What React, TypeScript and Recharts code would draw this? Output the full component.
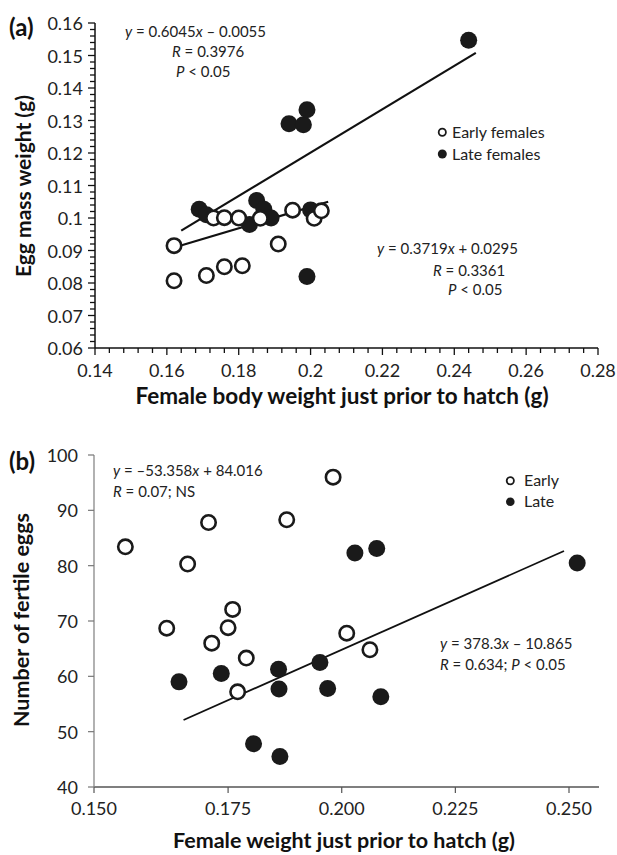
import React from 'react';
import { ScatterChart, Scatter, XAxis, YAxis, ReferenceLine } from 'recharts';

// ---------- Panel (a) data ----------
const earlyAX = [0.162, 0.162, 0.171, 0.176, 0.181, 0.191, 0.173, 0.176, 0.180, 0.186, 0.195, 0.201, 0.203];
const earlyAY = [0.0915, 0.0807, 0.0823, 0.0850, 0.0853, 0.0920, 0.1000, 0.1001, 0.1000, 0.0999, 0.1024, 0.0999, 0.1022];
const lateAX = [0.169, 0.171, 0.185, 0.187, 0.189, 0.183, 0.200, 0.199, 0.194, 0.198, 0.199, 0.244];
const lateAY = [0.1027, 0.1010, 0.1054, 0.1027, 0.1000, 0.0980, 0.1025, 0.0820, 0.1290, 0.1287, 0.1333, 0.1547];
const trendLateA = [{ x: 0.164, y: 0.0961 }, { x: 0.246, y: 0.1508 }];
const trendEarlyA = [{ x: 0.1604, y: 0.0904 }, { x: 0.2049, y: 0.1050 }];
const xMajorA = [0.14, 0.16, 0.18, 0.2, 0.22, 0.24, 0.26, 0.28];
const xLabelsA = ['0.14', '0.16', '0.18', '0.2', '0.22', '0.24', '0.26', '0.28'];
const yMajorA = [0.06, 0.07, 0.08, 0.09, 0.1, 0.11, 0.12, 0.13, 0.14, 0.15, 0.16];
const yLabelsA = ['0.06', '0.07', '0.08', '0.09', '0.1', '0.11', '0.12', '0.13', '0.14', '0.15', '0.16'];

// ---------- Panel (b) data ----------
const earlyBX = [0.1524, 0.1615, 0.1661, 0.1707, 0.1714, 0.1750, 0.1760, 0.1771, 0.1790, 0.1879, 0.1981, 0.2011, 0.2062];
const earlyBY = [83.4, 68.7, 80.3, 87.8, 66.0, 68.8, 72.1, 57.2, 63.3, 88.3, 96.0, 67.8, 64.8];
const lateBX = [0.1642, 0.1735, 0.1806, 0.1861, 0.1862, 0.1864, 0.1952, 0.1969, 0.2029, 0.2077, 0.2086, 0.2518];
const lateBY = [59.0, 60.5, 47.8, 61.3, 57.7, 45.5, 62.5, 57.8, 82.3, 83.1, 56.3, 80.5];
const trendLateB = [{ x: 0.1652, y: 52.1 }, { x: 0.2489, y: 82.65 }];
const xTicksB = [0.1455, 0.175, 0.2, 0.225, 0.25];
const xLabelsB = ['0.150', '0.175', '0.200', '0.225', '0.250'];
const yTicksB = [40, 50, 60, 70, 80, 90, 100];
const yLabelsB = ['40', '50', '60', '70', '80', '90', '100'];

const zip = (xs: number[], ys: number[]) => xs.map((x, i) => ({ x, y: ys[i] }));

const FONT = 'Lato, "Liberation Sans", sans-serif';
const TXT = '#222';

// minor tick positions (every 0.004 on x, every 0.002 on y)
const xTicksA = Array.from({ length: 36 }, (_, i) => Number((0.14 + i * 0.004).toFixed(3)));
const yTicksA = Array.from({ length: 51 }, (_, i) => Number((0.06 + i * 0.002).toFixed(3)));

const findMajor = (v: number, majors: number[]) => majors.findIndex((m) => Math.abs(m - v) < 1e-6);

const XTickA = (props: any) => {
  const { x, y, payload } = props;
  const idx = findMajor(payload.value, xMajorA);
  const major = idx >= 0;
  return (
    <g>
      <line x1={x} x2={x} y1={y} y2={y + (major ? 7 : 5)} stroke="#111" strokeWidth={1.3} />
      {major && (
        <text x={x} y={y + 22} textAnchor="middle" dominantBaseline="central" fontSize={18} fill={TXT} fontFamily={FONT}>
          {xLabelsA[idx]}
        </text>
      )}
    </g>
  );
};

const YTickA = (props: any) => {
  const { x, y, payload } = props;
  const idx = findMajor(payload.value, yMajorA);
  const major = idx >= 0;
  return (
    <g>
      <line x1={x} x2={x - (major ? 7 : 5)} y1={y} y2={y} stroke="#111" strokeWidth={1.3} />
      {major && (
        <text x={x - 12} y={y} textAnchor="end" dominantBaseline="central" fontSize={18} fill={TXT} fontFamily={FONT}>
          {yLabelsA[idx]}
        </text>
      )}
    </g>
  );
};

const XTickB = (props: any) => {
  const { x, y, payload, index } = props;
  return (
    <g>
      <line x1={x} x2={x} y1={y} y2={y + 6} stroke="#555" strokeWidth={1.2} />
      <text x={x} y={y + 21} textAnchor="middle" dominantBaseline="central" fontSize={18} fill={TXT} fontFamily={FONT}>
        {xLabelsB[index] ?? String(payload.value)}
      </text>
    </g>
  );
};

const YTickB = (props: any) => {
  const { x, y, payload, index } = props;
  return (
    <g>
      <line x1={x} x2={x - 6} y1={y} y2={y} stroke="#777" strokeWidth={1.2} />
      <text x={x - 16} y={y} textAnchor="end" dominantBaseline="central" fontSize={18} fill={TXT} fontFamily={FONT}>
        {yLabelsB[index] ?? String(payload.value)}
      </text>
    </g>
  );
};

const OpenDot = (r: number) => (p: any) => (
  <circle cx={p.cx} cy={p.cy} r={r} fill="#fff" stroke="#1a1a1a" strokeWidth={2.6} />
);
const FilledDot = (r: number) => (p: any) => <circle cx={p.cx} cy={p.cy} r={r} fill="#1a1a1a" />;

const abs = (left: number, top: number, extra: React.CSSProperties = {}): React.CSSProperties => ({
  position: 'absolute',
  left,
  top,
  transform: 'translateY(-50%)',
  whiteSpace: 'nowrap',
  fontFamily: FONT,
  color: TXT,
  lineHeight: 1,
  ...extra,
});

const I = ({ children }: { children: React.ReactNode }) => <i>{children}</i>;

export default function App() {
  return (
    <div style={{ position: 'absolute', left: 0, top: 0, width: 617, height: 855, background: '#fff', fontFamily: FONT }}>
      {/* Panel (a) */}
      <div style={{ position: 'absolute', left: 0, top: 0 }}>
        <ScatterChart width={617} height={420} margin={{ top: 23, right: 19, bottom: 0, left: 0 }}>
          <XAxis
            type="number"
            dataKey="x"
            domain={[0.14, 0.28]}
            ticks={xTicksA}
            interval={0}
            height={72}
            tickSize={0}
            tickMargin={0}
            tickLine={false}
            axisLine={{ stroke: '#111', strokeWidth: 1.5 }}
            tick={(p: any) => <XTickA {...p} />}
            allowDataOverflow
          />
          <YAxis
            type="number"
            dataKey="y"
            domain={[0.06, 0.16]}
            ticks={yTicksA}
            interval={0}
            width={95}
            tickSize={0}
            tickMargin={0}
            tickLine={false}
            axisLine={{ stroke: '#111', strokeWidth: 1.5 }}
            tick={(p: any) => <YTickA {...p} />}
            allowDataOverflow
          />
          <Scatter name="Late females" data={zip(lateAX, lateAY)} shape={FilledDot(8.5)} isAnimationActive={false} />
          <Scatter name="Early females" data={zip(earlyAX, earlyAY)} shape={OpenDot(7.2)} isAnimationActive={false} />
          <ReferenceLine segment={trendLateA} stroke="#111" strokeWidth={2.2} ifOverflow="visible" />
          <ReferenceLine segment={trendEarlyA} stroke="#111" strokeWidth={2.2} ifOverflow="visible" />
        </ScatterChart>
      </div>

      {/* Panel (b) */}
      <div style={{ position: 'absolute', left: 0, top: 420 }}>
        <ScatterChart width={617} height={435} margin={{ top: 35, right: 18, bottom: 0, left: 0 }}>
          <XAxis
            type="number"
            dataKey="x"
            domain={[0.1455, 0.2566]}
            ticks={xTicksB}
            interval={0}
            height={68}
            tickSize={0}
            tickMargin={0}
            tickLine={false}
            axisLine={{ stroke: '#555', strokeWidth: 1.3 }}
            tick={(p: any) => <XTickB {...p} />}
            allowDataOverflow
          />
          <YAxis
            type="number"
            dataKey="y"
            domain={[40, 100]}
            ticks={yTicksB}
            interval={0}
            width={94}
            tickSize={0}
            tickMargin={0}
            tickLine={false}
            axisLine={{ stroke: '#888', strokeWidth: 1.3 }}
            tick={(p: any) => <YTickB {...p} />}
            allowDataOverflow
          />
          <Scatter name="Late" data={zip(lateBX, lateBY)} shape={FilledDot(8.5)} isAnimationActive={false} />
          <Scatter name="Early" data={zip(earlyBX, earlyBY)} shape={OpenDot(7.2)} isAnimationActive={false} />
          <ReferenceLine segment={trendLateB} stroke="#111" strokeWidth={1.8} ifOverflow="visible" />
        </ScatterChart>
      </div>

      {/* Panel labels */}
      <div style={abs(9, 27, { fontWeight: 700, fontSize: 24, color: '#111' })}>(a)</div>
      <div style={abs(9, 461, { fontWeight: 700, fontSize: 24, color: '#111' })}>(b)</div>

      {/* Axis titles */}
      <div style={{ ...abs(342, 396, { fontWeight: 700, fontSize: 22.5, color: '#111' }), transform: 'translate(-50%,-50%)' }}>
        Female body weight just prior to hatch (g)
      </div>
      <div style={{ ...abs(22, 186, { fontWeight: 700, fontSize: 21, color: '#111' }), transform: 'translate(-50%,-50%) rotate(-90deg)' }}>
        Egg mass weight (g)
      </div>
      <div style={{ ...abs(344, 841, { fontWeight: 700, fontSize: 21.5, color: '#111' }), transform: 'translate(-50%,-50%)' }}>
        Female weight just prior to hatch (g)
      </div>
      <div style={{ ...abs(22, 620, { fontWeight: 700, fontSize: 21.5, color: '#111' }), transform: 'translate(-50%,-50%) rotate(-90deg)' }}>
        Number of fertile eggs
      </div>

      {/* Annotations (a) */}
      <div style={abs(125, 31, { fontSize: 15 })}><I>y</I> = 0.6045<I>x</I> – 0.0055</div>
      <div style={abs(172, 51, { fontSize: 15 })}><I>R</I> = 0.3976</div>
      <div style={abs(176, 71, { fontSize: 15 })}><I>P</I> &lt; 0.05</div>
      <div style={abs(377, 248, { fontSize: 15 })}><I>y</I> = 0.3719<I>x</I> + 0.0295</div>
      <div style={abs(433, 270, { fontSize: 15 })}><I>R</I> = 0.3361</div>
      <div style={abs(448, 289, { fontSize: 15 })}><I>P</I> &lt; 0.05</div>

      {/* Legend (a) */}
      <svg style={{ position: 'absolute', left: 436, top: 126 }} width={14} height={34}>
        <circle cx={6.3} cy={6.3} r={3.6} fill="#fff" stroke="#1a1a1a" strokeWidth={1.8} />
        <circle cx={6.3} cy={28} r={4.5} fill="#1a1a1a" />
      </svg>
      <div style={abs(452, 132, { fontSize: 16 })}>Early females</div>
      <div style={abs(452, 154, { fontSize: 16 })}>Late females</div>

      {/* Annotations (b) */}
      <div style={abs(113, 470, { fontSize: 15 })}><I>y</I> = –53.358<I>x</I> + 84.016</div>
      <div style={abs(113, 491, { fontSize: 15 })}><I>R</I> = 0.07; NS</div>
      <div style={abs(440, 643, { fontSize: 15 })}><I>y</I> = 378.3<I>x</I> – 10.865</div>
      <div style={abs(440, 664, { fontSize: 15 })}><I>R</I> = 0.634; <I>P</I> &lt; 0.05</div>

      {/* Legend (b) */}
      <svg style={{ position: 'absolute', left: 504, top: 474 }} width={14} height={34}>
        <circle cx={6.3} cy={6.7} r={3.6} fill="#fff" stroke="#1a1a1a" strokeWidth={1.8} />
        <circle cx={6.3} cy={27.7} r={4.3} fill="#1a1a1a" />
      </svg>
      <div style={abs(524, 480, { fontSize: 16 })}>Early</div>
      <div style={abs(524, 501, { fontSize: 16 })}>Late</div>
    </div>
  );
}
